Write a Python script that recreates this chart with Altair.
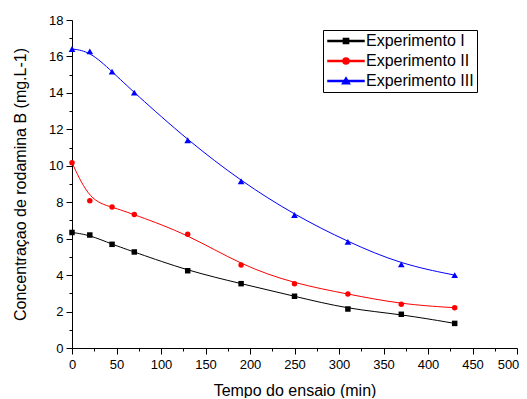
import altair as alt
import pandas as pd

# ---- data ----
tempo = [0, 20, 45, 70, 130, 190, 250, 310, 370, 430]
exp1 = [6.34, 6.2, 5.69, 5.27, 4.24, 3.53, 2.84, 2.14, 1.85, 1.35]
exp2 = [10.17, 8.08, 7.74, 7.32, 6.24, 4.55, 3.53, 2.96, 2.4, 2.21]
exp3 = [16.41, 16.28, 15.17, 14.01, 11.4, 9.15, 7.3, 5.82, 4.59, 4.0]
series = ["Experimento I", "Experimento II", "Experimento III"]
colors = ["#000000", "#ff0000", "#0000ff"]
shapes = ["square", "circle", "triangle-up"]
sizes = [30, 30, 45]
x_ticks = list(range(0, 501, 25))
y_ticks = list(range(0, 19))

rows = []
for name, vals in zip(series, [exp1, exp2, exp3]):
    for t, v in zip(tempo, vals):
        rows.append({"tempo": t, "conc": v, "serie": name})
df = pd.DataFrame(rows)

FONT = "Liberation Sans"

# legend symbols: short line with a marker in the middle (unit = 6 px)
seg = "M-3,-0.09H-0.4V0.09H-3ZM0.4,-0.09H3V0.09H0.4Z"
legend_paths = [
    seg + "M-0.43,-0.43H0.43V0.43H-0.43Z",
    seg + "M-0.5,0A0.5,0.5 0 1,0 0.5,0A0.5,0.5 0 1,0 -0.5,0Z",
    seg + "M0,-0.55L0.6,0.45H-0.6Z",
]

cscale = alt.Scale(domain=series, range=colors)

x_enc = alt.X(
    "tempo:Q",
    scale=alt.Scale(domain=[0, 500], nice=False, zero=False),
    axis=alt.Axis(
        values=x_ticks,
        labelExpr="datum.value % 50 == 0 ? datum.label : ''",
        tickSize={"condition": {"test": "datum.value % 50 != 0", "value": 3}, "value": 6},
        labelOffset={"condition": {"test": "datum.value == 500", "value": -9}, "value": 0},
        labelFlush=False,
        labelOverlap=False,
        labelPadding=4,
        title="Tempo do ensaio (min)",
        titlePadding=11,
    ),
)
y_enc = alt.Y(
    "conc:Q",
    scale=alt.Scale(domain=[0, 18], nice=False, zero=False),
    axis=alt.Axis(
        values=y_ticks,
        labelExpr="datum.value % 2 == 0 ? datum.label : ''",
        tickSize={"condition": {"test": "datum.value % 2 != 0", "value": 3}, "value": 6},
        labelFlush=False,
        labelOverlap=False,
        labelPadding=3,
        title="Concentraçao de rodamina B (mg.L-1)",
        titlePadding=20,
    ),
)

leg = alt.Legend(
    title=None,
    orient="none",
    legendX=251,
    legendY=10,
    strokeColor="black",
    padding=3,
    labelFontSize=16,
    labelFont=FONT,
    labelColor="black",
    symbolSize=144,
    symbolOffset=12,
    labelOffset=12,
    rowPadding=4,
)

# legend-only layer (no marks drawn), placed first so its legend settings win
legend_layer = (
    alt.Chart(df)
    .transform_filter("false")
    .mark_point(filled=True, opacity=1)
    .encode(
        x=x_enc,
        y=y_enc,
        color=alt.Color("serie:N", scale=cscale, legend=leg),
        shape=alt.Shape("serie:N", scale=alt.Scale(domain=series, range=legend_paths), legend=leg),
    )
)

lines = alt.Chart(df).mark_line(interpolate="basis", strokeWidth=1).encode(
    x=x_enc, y=y_enc, color=alt.Color("serie:N", scale=cscale, legend=None)
)

point_layers = []
for name, shp, sz in zip(series, shapes, sizes):
    point_layers.append(
        alt.Chart(df)
        .transform_filter(alt.datum.serie == name)
        .mark_point(filled=True, shape=shp, size=sz, opacity=1)
        .encode(x=x_enc, y=y_enc, color=alt.Color("serie:N", scale=cscale, legend=None))
    )

chart = (
    alt.layer(legend_layer, lines, *point_layers)
    .properties(
        width=445,
        height=328,
        autosize=alt.AutoSizeParams(type="none"),
        padding={"left": 64, "top": 12, "right": 2, "bottom": 50},
    )
    .configure_view(stroke=None)
    .configure_axis(
        grid=False,
        domainColor="black",
        tickColor="black",
        labelColor="black",
        titleColor="black",
        labelFont=FONT,
        titleFont=FONT,
        labelFontSize=13,
        titleFontSize=16,
        titleFontWeight="normal",
        domainWidth=1,
        tickWidth=1,
    )
)

chart.save("out.html", embed_options={"renderer": "svg", "actions": False})
